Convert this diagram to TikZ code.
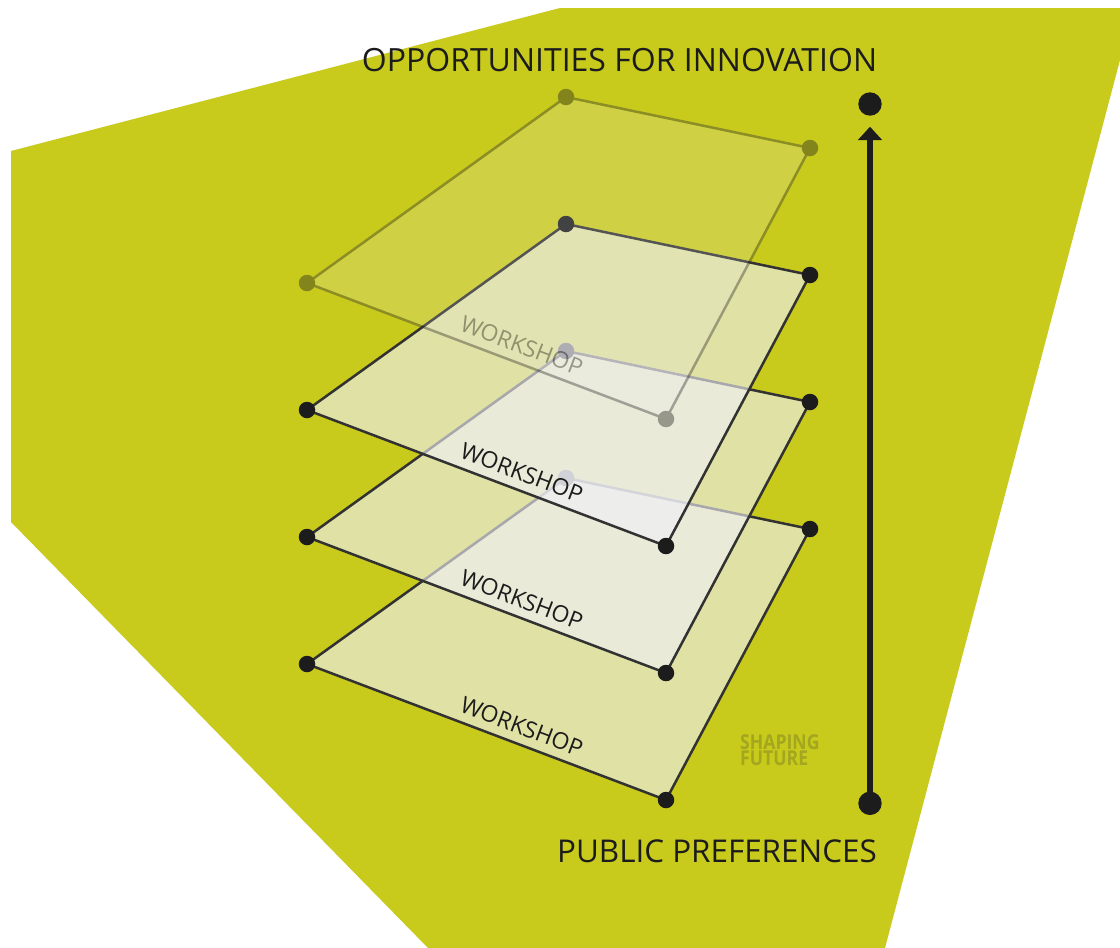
\documentclass[tikz,border=0pt]{standalone}
\usepackage{fontspec}
\setmainfont{Open Sans}
\usetikzlibrary{arrows.meta}
\definecolor{bggreen}{RGB}{200,202,28}
\definecolor{planefill}{RGB}{240,240,248}
\definecolor{edgegrey}{RGB}{50,50,50}
\definecolor{dotblack}{RGB}{28,28,28}
\definecolor{markolive}{RGB}{164,166,32}
\newcommand\planelayer[3]{%
  \coordinate (#1l) at (307,{283+#2});
  \coordinate (#1t) at (566,{97+#2});
  \coordinate (#1r) at (810,{148+#2});
  \coordinate (#1b) at (666,{419+#2});
  \fill[planefill, fill opacity=#3] (#1l) -- (#1t) -- (#1r) -- (#1b) -- cycle;
  \draw[planeedge] (#1l) -- (#1t) -- (#1r) -- (#1b) -- cycle;
  \node[dot] (#1L) at (#1l) {};
  \node[dot] (#1T) at (#1t) {};
  \node[dot] (#1R) at (#1r) {};
  \node[dot] (#1B) at (#1b) {};
  \path (#1l) -- node[wlabel, pos=0.581, sloped, above=9pt] (#1W) {WORKSHOP} (#1b);
}
\begin{document}
\begin{tikzpicture}[x=1pt,y=-1pt,
  planeedge/.style={draw=edgegrey, line width=2.5pt, line join=round},
  dot/.style={circle, fill=dotblack, minimum size=16.5pt, inner sep=0pt},
  bigdot/.style={circle, fill=dotblack, minimum size=23.4pt, inner sep=0pt},
  wlabel/.style={font=\fontsize{23}{28}\selectfont, text=dotblack, inner sep=0pt},
  bigtitle/.style={font=\fontsize{32}{38}\selectfont, text=dotblack, inner sep=0pt},
  arrowline/.style={draw=dotblack, line width=5.3pt, -{Triangle[width=23.4pt,length=13.3pt]}}
]
\useasboundingbox (0,0) rectangle (1120,948);
\fill[white] (0,0) rectangle (1120,948);
\fill[bggreen] (11,151) -- (560,8) -- (1120,8) -- (1120,60) -- (885,948) -- (428,948) -- (11,522) -- cycle;

% workshop layers, lowest first
\planelayer{pd}{381}{0.62}
\planelayer{pc}{254}{0.62}
\planelayer{pb}{127}{0.62}
% faded top layer
\begin{scope}[transparency group, opacity=0.4]
\planelayer{pa}{0}{0.45}
\end{scope}

% vertical arrow
\node[bigdot] (atop) at (870,104) {};
\node[bigdot] (abot) at (870,803.3) {};
\coordinate (atip) at (870,126.7);
\draw[arrowline] (abot.center) -- (atip);

% titles
\node[bigtitle, anchor=base] (top) at (619.5,71) {OPPORTUNITIES FOR INNOVATION};
\node[bigtitle, anchor=base, font=\fontsize{31.4}{38}\selectfont] (bottom) at (717,862) {PUBLIC PREFERENCES};

% watermark
\node[font=\bfseries\fontsize{20.5}{16}\selectfont, text=markolive, inner sep=0pt, align=left, anchor=north west, xscale=0.86, transform shape] (wm) at (740,734) {SHAPING\\FUTURE};
\end{tikzpicture}
\end{document}
